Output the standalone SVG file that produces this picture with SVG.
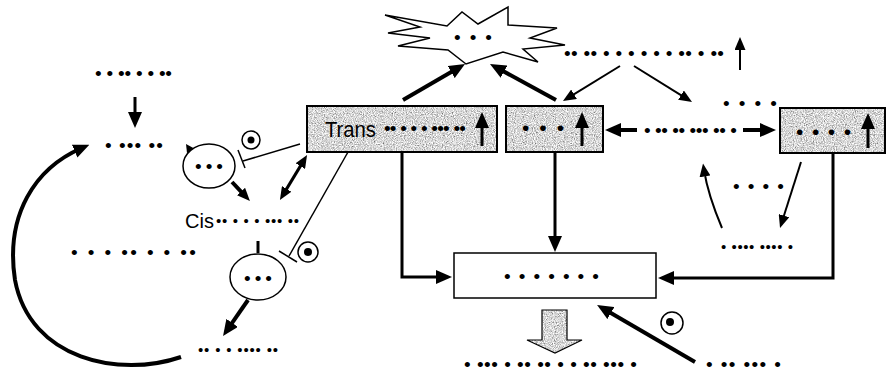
<svg xmlns="http://www.w3.org/2000/svg" width="891" height="378" viewBox="0 0 891 378">
<style>
.d{font-family:"Liberation Sans",Arial,sans-serif;font-size:19px;fill:#000}
.s{font-size:15px}
.t{font-family:"Liberation Sans",Arial,sans-serif;fill:#000}
.bx{fill:none;stroke:#000;stroke-width:2}
.ln{fill:none;stroke:#000;stroke-linecap:butt}
.w4{stroke-width:4}
.w3{stroke-width:3}
.w2{stroke-width:2}
.w15{stroke-width:1.5}
.ab{marker-end:url(#big)}
.am{marker-end:url(#med)}
</style>
<defs>
<marker id="big" viewBox="0 0 16 14" markerWidth="16" markerHeight="14" refX="8" refY="7" orient="auto" markerUnits="userSpaceOnUse"><path d="M0,0 L16,7 L0,14 z" fill="#000"/></marker>
<marker id="med" viewBox="0 0 13 11" markerWidth="13" markerHeight="11" refX="6.5" refY="5.5" orient="auto" markerUnits="userSpaceOnUse"><path d="M0,0 L13,5.5 L0,11 z" fill="#000"/></marker>
<marker id="meds" viewBox="0 0 13 11" markerWidth="13" markerHeight="11" refX="6.5" refY="5.5" orient="auto-start-reverse" markerUnits="userSpaceOnUse"><path d="M0,0 L13,5.5 L0,11 z" fill="#000"/></marker>
<filter id="noise" x="0" y="0" width="100%" height="100%">
<feTurbulence type="fractalNoise" baseFrequency="0.9" numOctaves="2" seed="4" result="n"/>
<feColorMatrix in="n" type="matrix" values="1.5 0 0 0 -0.07  1.5 0 0 0 -0.07  1.5 0 0 0 -0.07  0 0 0 0 1" result="g"/>
<feComposite in="g" in2="SourceGraphic" operator="in"/>
</filter>
</defs>
<rect width="891" height="378" fill="#fff"/>

<g id="connectors">
<line class="ln w3 ab" x1="135" y1="97" x2="135" y2="120"/>
<path class="ln w4 ab" d="M181,357 C120,378 30,360 15,280 C5,215 35,168 82,148"/>
<line class="ln w4" x1="232" y1="182" x2="245.5" y2="196.3" marker-end="url(#med)"/>
<line class="ln w3" x1="283.3" y1="194.4" x2="303.7" y2="160.6" marker-start="url(#meds)" marker-end="url(#med)"/>
<line class="ln w4 ab" x1="248" y1="300" x2="227.6" y2="329.4"/>
<line class="ln w15" x1="300" y1="144" x2="243" y2="161"/>
<line class="ln w15" x1="238" y1="150" x2="245" y2="168"/>
<line class="ln w15" x1="348" y1="152" x2="289" y2="256"/>
<line class="ln w15" x1="279" y1="251" x2="297" y2="262"/>
<line class="ln w3" x1="258" y1="241" x2="258" y2="253"/>
<line class="ln w4 ab" x1="403" y1="100" x2="458.1" y2="68"/>
<line class="ln w4 ab" x1="556" y1="100" x2="497" y2="67.8"/>
<line class="ln w2 am" x1="620" y1="66" x2="568.5" y2="97.6"/>
<line class="ln w2 am" x1="634" y1="66" x2="686.5" y2="98.6"/>
<line class="ln w2 am" x1="740" y1="70" x2="740" y2="43.5"/>
<line class="ln w4 ab" x1="637" y1="130" x2="613" y2="130"/>
<line class="ln w4 ab" x1="743" y1="130" x2="768" y2="130"/>
<path class="ln w3 ab" d="M402,152 V277 H444"/>
<line class="ln w3 ab" x1="555" y1="152" x2="555" y2="244"/>
<path class="ln w3 ab" d="M833,153 V278 H666"/>
<line class="ln w2 am" x1="801" y1="162" x2="782" y2="221.8"/>
<path class="ln w2 am" d="M722,228 Q708,195 704,170"/>
<line class="ln w4 ab" x1="695" y1="362" x2="604" y2="309"/>
</g>

<g id="n-top"><text class="d" x="95" y="79.5" textLength="77" lengthAdjust="spacing">• • •• • • ••</text></g>
<g id="n-mid"><text class="d" x="105" y="151.5" textLength="58" lengthAdjust="spacing">• •••  ••</text></g>
<g id="n-left"><text class="d" x="71" y="258.5" textLength="125" lengthAdjust="spacing">• • • •• • • ••</text></g>
<g id="n-bottomleft"><text class="d s" x="198" y="355" textLength="80" lengthAdjust="spacing">•• • • •••• ••</text></g>

<g id="n-ell1">
<polygon points="186,144 197,150 187,153" fill="#000"/>
<ellipse cx="209" cy="166" rx="26" ry="22" fill="#fff" stroke="#000" stroke-width="1.5"/>
<text class="d" x="195" y="172.5" textLength="28" lengthAdjust="spacing">• • •</text>
</g>
<g id="n-ell2">
<ellipse cx="258" cy="277" rx="28" ry="23" fill="#fff" stroke="#000" stroke-width="1.5"/>
<text class="d" x="244" y="284.5" textLength="28" lengthAdjust="spacing">• • •</text>
</g>
<g id="n-inh1"><circle cx="251" cy="140" r="9" fill="#fff" stroke="#000" stroke-width="1.5"/><circle cx="251" cy="140" r="3.5" fill="#000"/></g>
<g id="n-inh2"><circle cx="308" cy="252" r="10" fill="#fff" stroke="#000" stroke-width="1.5"/><circle cx="308" cy="252" r="4" fill="#000"/></g>
<g id="n-inh3"><circle cx="672" cy="323" r="11" fill="#fff" stroke="#000" stroke-width="1.5"/><circle cx="670" cy="322" r="4" fill="#000"/></g>

<g id="n-cis">
<text class="t" x="185" y="228" style="font-size:20px">Cis</text>
<text class="d s" x="216" y="226" textLength="83" lengthAdjust="spacing">•• • • • ••• ••</text>
</g>

<g id="n-trans">
<rect x="307" y="106" width="190" height="46" fill="#000" filter="url(#noise)"/>
<rect class="bx" x="307" y="106" width="190" height="46"/>
<text class="t" x="325" y="137" style="font-size:22px" textLength="51" lengthAdjust="spacingAndGlyphs">Trans</text>
<text class="d" x="384" y="134.5" textLength="82" lengthAdjust="spacing">•• • • • ••• ••</text>
<line class="ln w3 ab" x1="482" y1="146" x2="482" y2="120"/>
</g>

<g id="n-box2">
<rect x="506" y="106" width="97" height="46" fill="#000" filter="url(#noise)"/>
<rect class="bx" x="506" y="106" width="97" height="46"/>
<text class="d" x="522" y="135" textLength="42" lengthAdjust="spacing" style="font-size:21px">• • •</text>
<line class="ln w3 ab" x1="582" y1="146" x2="582" y2="120"/>
</g>

<g id="n-box3">
<rect x="780" y="108" width="105" height="45" fill="#000" filter="url(#noise)"/>
<rect class="bx" x="780" y="108" width="105" height="45"/>
<text class="d" x="796" y="139" textLength="55" lengthAdjust="spacing" style="font-size:21px">• • • •</text>
<line class="ln w3 ab" x1="868" y1="148" x2="868" y2="121"/>
</g>

<g id="n-burst">
<polygon points="385,15 447,26 462,12 478,24 508,7 508,25 557,28 530,38 565,45 523,49 538,62 503,52 466,64 448,50 398,46 430,38 388,33 420,27" fill="#fff" stroke="#000" stroke-width="1.5" stroke-linejoin="miter"/>
<text class="d" x="454" y="43.5" textLength="38" lengthAdjust="spacing">• • •</text>
</g>

<g id="n-topright"><text class="d" x="564" y="59.5" textLength="160" lengthAdjust="spacing">•• •• • • • • • • •• • ••</text></g>
<g id="n-right1"><text class="d" x="723" y="109.5" textLength="54" lengthAdjust="spacing">• • • •</text></g>
<g id="n-link"><text class="d" x="644" y="136.5" textLength="93" lengthAdjust="spacing">• •• •• ••• •• •</text></g>
<g id="n-right2"><text class="d" x="733" y="192.5" textLength="51" lengthAdjust="spacing">• • • •</text></g>
<g id="n-right3"><text class="d s" x="721" y="252" textLength="72" lengthAdjust="spacing">• •••• •••• •</text></g>

<g id="n-center">
<rect x="454" y="253" width="202" height="45" fill="#fff" stroke="#000" stroke-width="1.5"/>
<text class="d" x="504" y="282.5" textLength="95" lengthAdjust="spacing">• • • • • • •</text>
</g>

<g id="n-blockarrow">
<path d="M542,310 H567 V340 H582 L555,353 L527,340 H542 Z" fill="#000" filter="url(#noise)"/>
<path d="M542,310 H567 V340 H582 L555,353 L527,340 H542 Z" fill="none" stroke="#000" stroke-width="1.2"/>
</g>

<g id="n-bottom"><text class="d" x="464" y="370.5" textLength="173" lengthAdjust="spacing">• ••• • •• •• • • •• ••• •</text></g>
<g id="n-bottomright"><text class="d" x="706" y="370.5" textLength="75" lengthAdjust="spacing">• •• ••• •</text></g>
</svg>
